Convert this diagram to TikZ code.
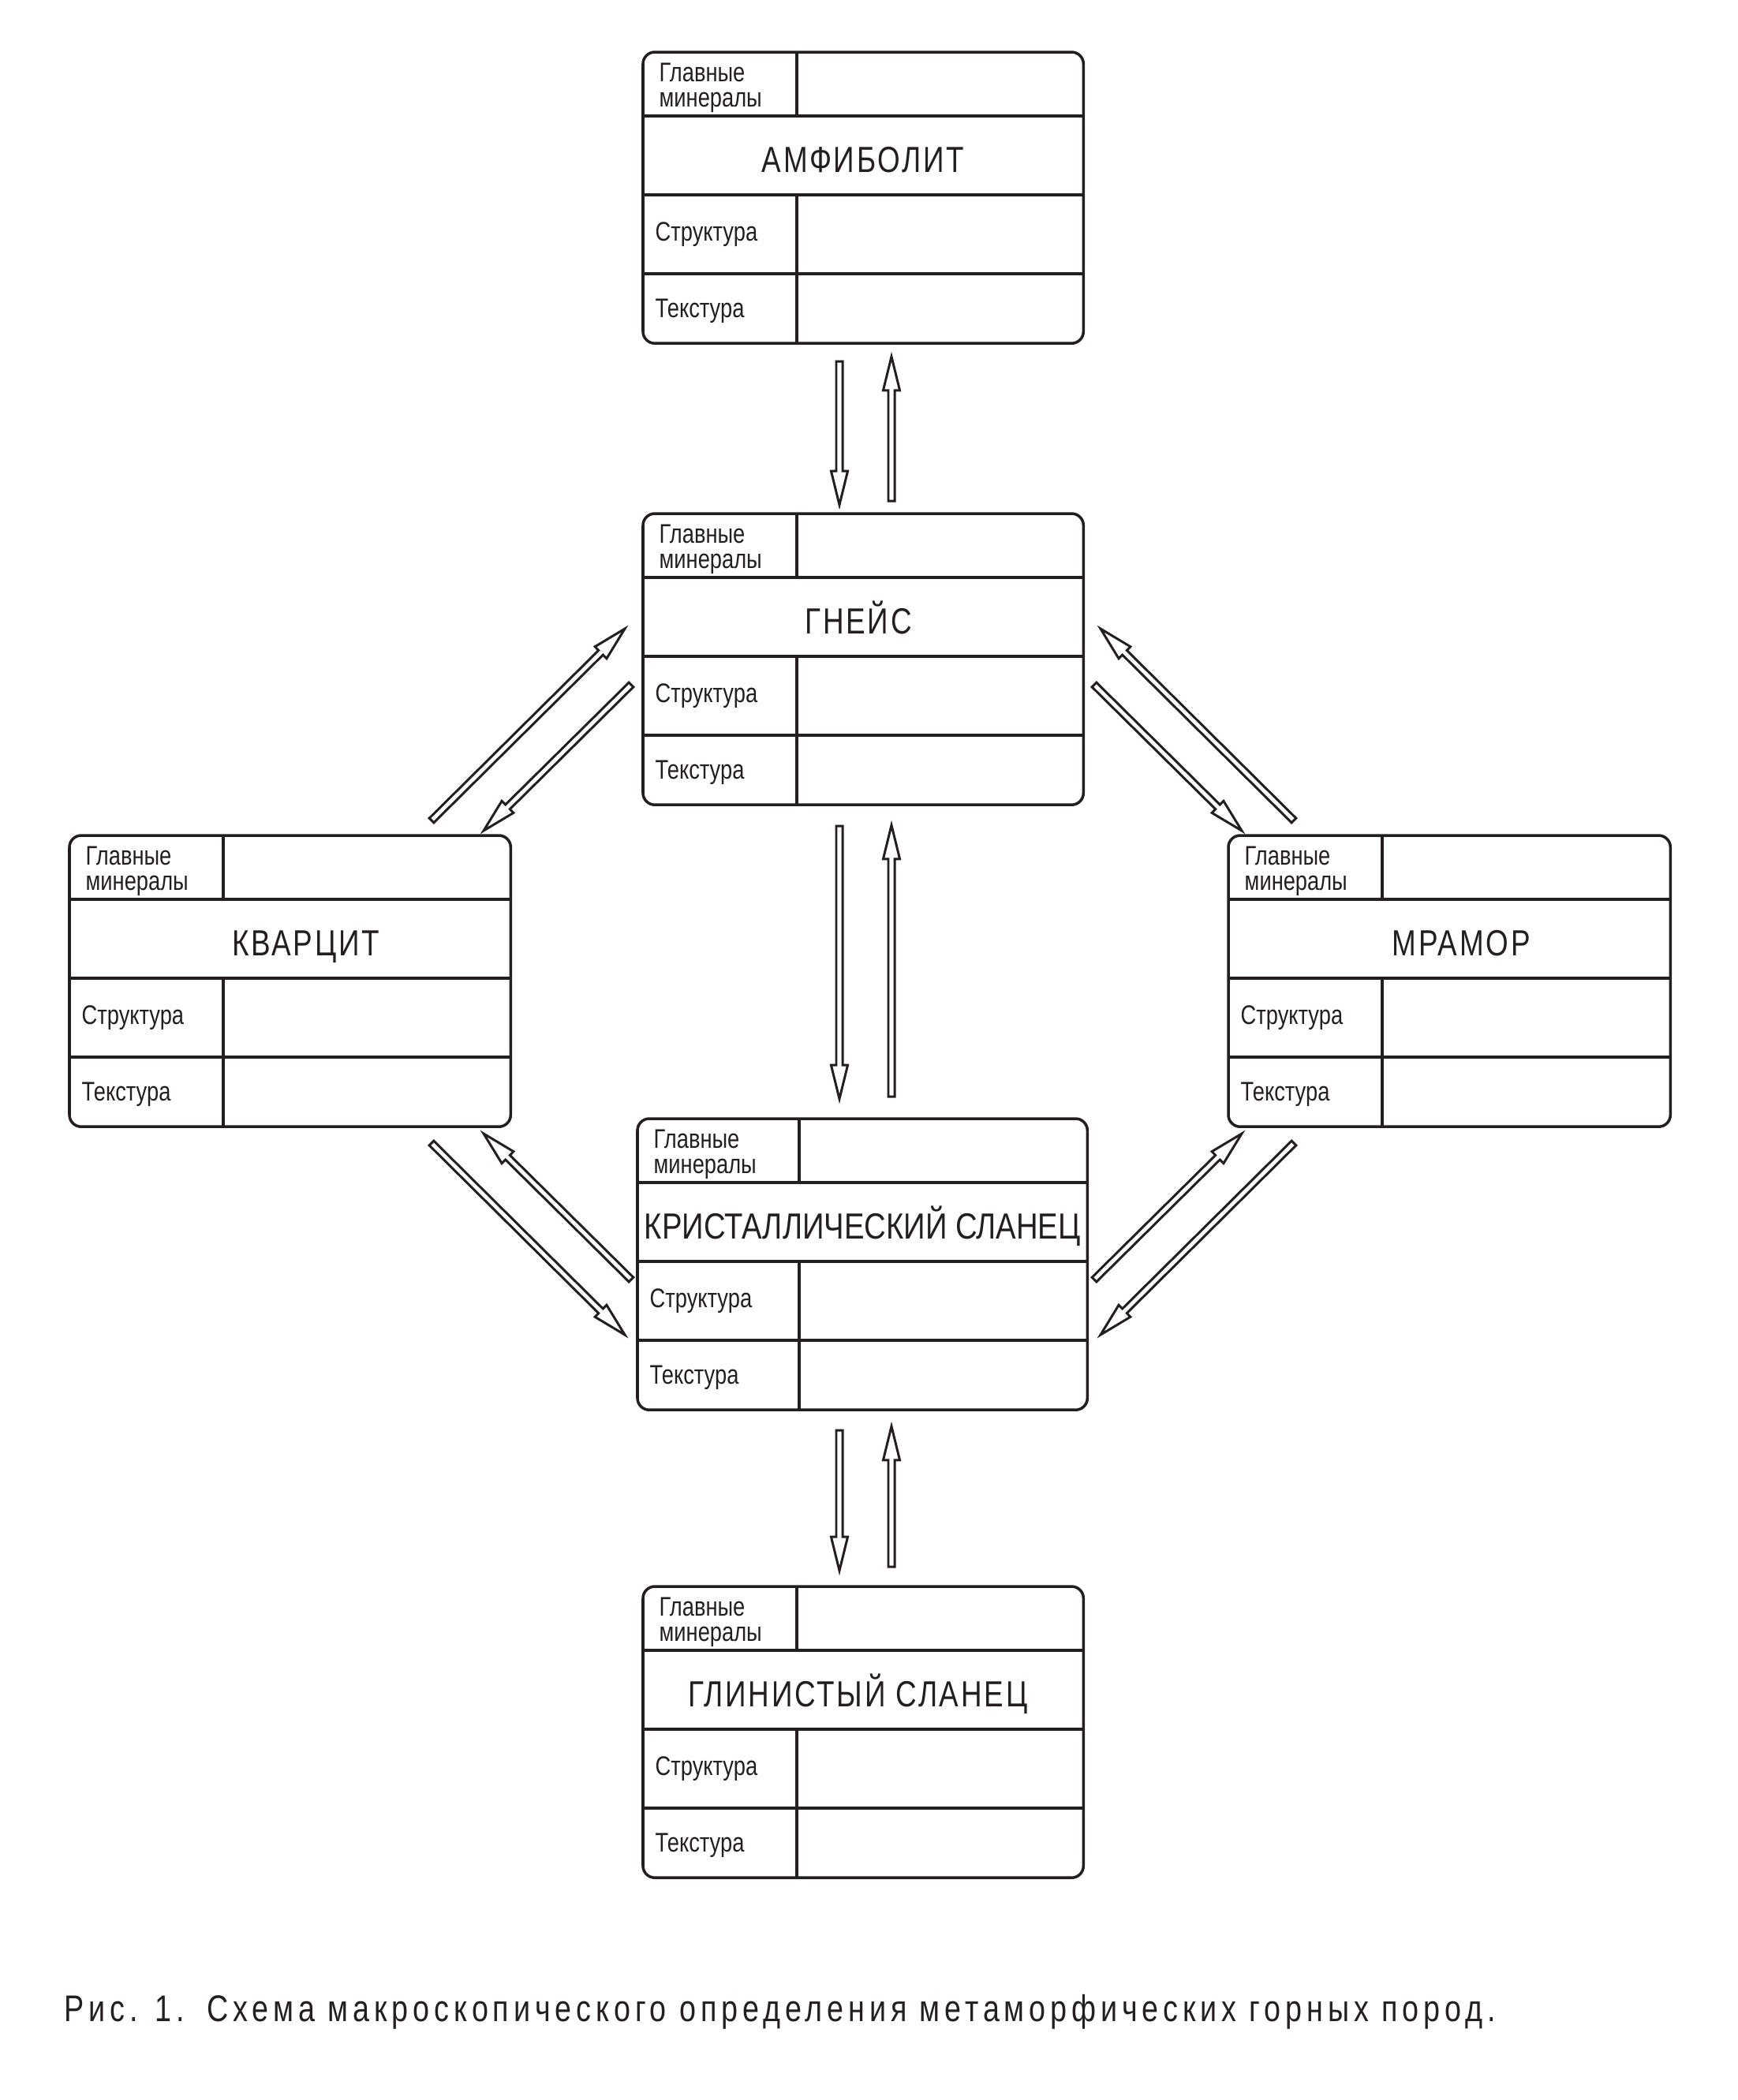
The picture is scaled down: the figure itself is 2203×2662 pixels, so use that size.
\documentclass[tikz,border=0pt]{standalone}
\usepackage{fontspec}
\setmainfont{Liberation Sans}
\newfontfamily\labelfont[FakeStretch=0.8]{Liberation Sans}
\newfontfamily\titlefont[FakeStretch=0.8,LetterSpace=6]{Liberation Sans}
\newfontfamily\titletight[FakeStretch=0.83]{Liberation Sans}
\newfontfamily\capfont[FakeStretch=0.8,LetterSpace=12.5]{Liberation Sans}
\usepackage{tikz}
\usetikzlibrary{calc}
\definecolor{ink}{HTML}{231F20}

% hollow arrow from #1 (tail) to #2 (tip)
\newcommand{\hollowarrow}[2]{%
  \coordinate (ha-s) at ($(#2)!12.2pt!(#1)$);
  \draw[hollow] ($(#1)!1.14pt!90:(#2)$) -- ($(ha-s)!1.14pt!-90:(#1)$) -- ($(ha-s)!3pt!-90:(#1)$) -- (#2)
    -- ($(ha-s)!3pt!90:(#1)$) -- ($(ha-s)!1.14pt!90:(#1)$) -- ($(#1)!1.14pt!-90:(#2)$) -- cycle;
}

\tikzset{
  card/.style={draw=ink,line width=1pt,rounded corners=0.15cm,minimum height=3.69cm,inner sep=0pt,outer sep=0pt,anchor=north west},
  cardline/.style={draw=ink,line width=1pt},
  cardlabel/.style={font=\labelfont\fontsize{9.7}{9.2}\selectfont,text=ink,inner sep=0pt,anchor=west,align=left},
  cardtitle/.style={font=\titlefont\fontsize{13.1}{15}\selectfont,text=ink,inner sep=0pt,anchor=base},
  hollow/.style={draw=ink,line width=0.85pt,line join=miter,fill=white}
}

\begin{document}
\begin{tikzpicture}[line cap=butt,x=0.01cm,y=-0.01cm]
    \useasboundingbox (0,0) rectangle (2203,2662);

    % rock cards
    \foreach \nm/\x/\y/\w/\lc/\dx/\ttl in {amf/815/66/5.58/1.95/0/АМФИБОЛИТ,
        gneis/815/651/5.58/1.95/-0.06/ГНЕЙС,
        kvarc/88/1059/5.59/1.95/0.2/КВАРЦИТ,
        mramor/1557/1059/5.60/1.95/0.15/МРАМОР,
        krist/808/1418/5.70/2.05/0/{\titletight КРИСТАЛЛИЧЕСКИЙ СЛАНЕЦ},
        glin/815/2011/5.58/1.95/-0.07/ГЛИНИСТЫЙ СЛАНЕЦ}{
        \node[card,minimum width=\w cm] (\nm) at (\x,\y) {};
        \draw[cardline] ([yshift=-0.81cm]\nm.north west) -- ([yshift=-0.81cm]\nm.north east);
        \draw[cardline] ([yshift=-1.81cm]\nm.north west) -- ([yshift=-1.81cm]\nm.north east);
        \draw[cardline] ([yshift=-2.81cm]\nm.north west) -- ([yshift=-2.81cm]\nm.north east);
        \draw[cardline] ([xshift=\lc cm]\nm.north west) -- ([xshift=\lc cm,yshift=-0.81cm]\nm.north west);
        \draw[cardline] ([xshift=\lc cm,yshift=-1.81cm]\nm.north west) -- ([xshift=\lc cm]\nm.south west);
        \node[cardlabel] (\nm-min) at ([xshift=0.2cm,yshift=-0.45cm]\nm.north west) {Главные\\минералы};
        \node[cardtitle] (\nm-ttl) at ([xshift=\dx cm,yshift=-1.52cm]\nm.north) {\ttl};
        \node[cardlabel] (\nm-str) at ([xshift=0.15cm,yshift=-2.31cm]\nm.north west) {Структура};
        \node[cardlabel] (\nm-tex) at ([xshift=0.15cm,yshift=-3.28cm]\nm.north west) {Текстура};
    }

    % arrows between the cards
    \foreach \i/\tx/\ty/\hx/\hy in {1/1064/458/1064/640, 2/1130/635/1130/452,
        3/1064/1047/1064/1393, 4/1130/1390/1130/1046,
        5/1064/1813/1064/1991, 6/1130/1986/1130/1808,
        7/547/1040/792/797, 8/800/868/613/1053,
        9/1640/1040/1395/797, 10/1387/868/1574/1053,
        11/547/1449/792/1692, 12/800/1622/613/1437,
        13/1387/1622/1574/1437, 14/1640/1449/1395/1692}{
        \coordinate (tail\i) at (\tx,\ty);
        \coordinate (head\i) at (\hx,\hy);
        \hollowarrow{tail\i}{head\i}
    }

    \node[anchor=base west,inner sep=0pt,text=ink,font=\capfont\fontsize{13.4}{16}\selectfont] (caption) at (81,2562)
        {Рис. 1.\hspace{0.6em}Схема макроскопического определения метаморфических горных пород.};
\end{tikzpicture}
\end{document}
